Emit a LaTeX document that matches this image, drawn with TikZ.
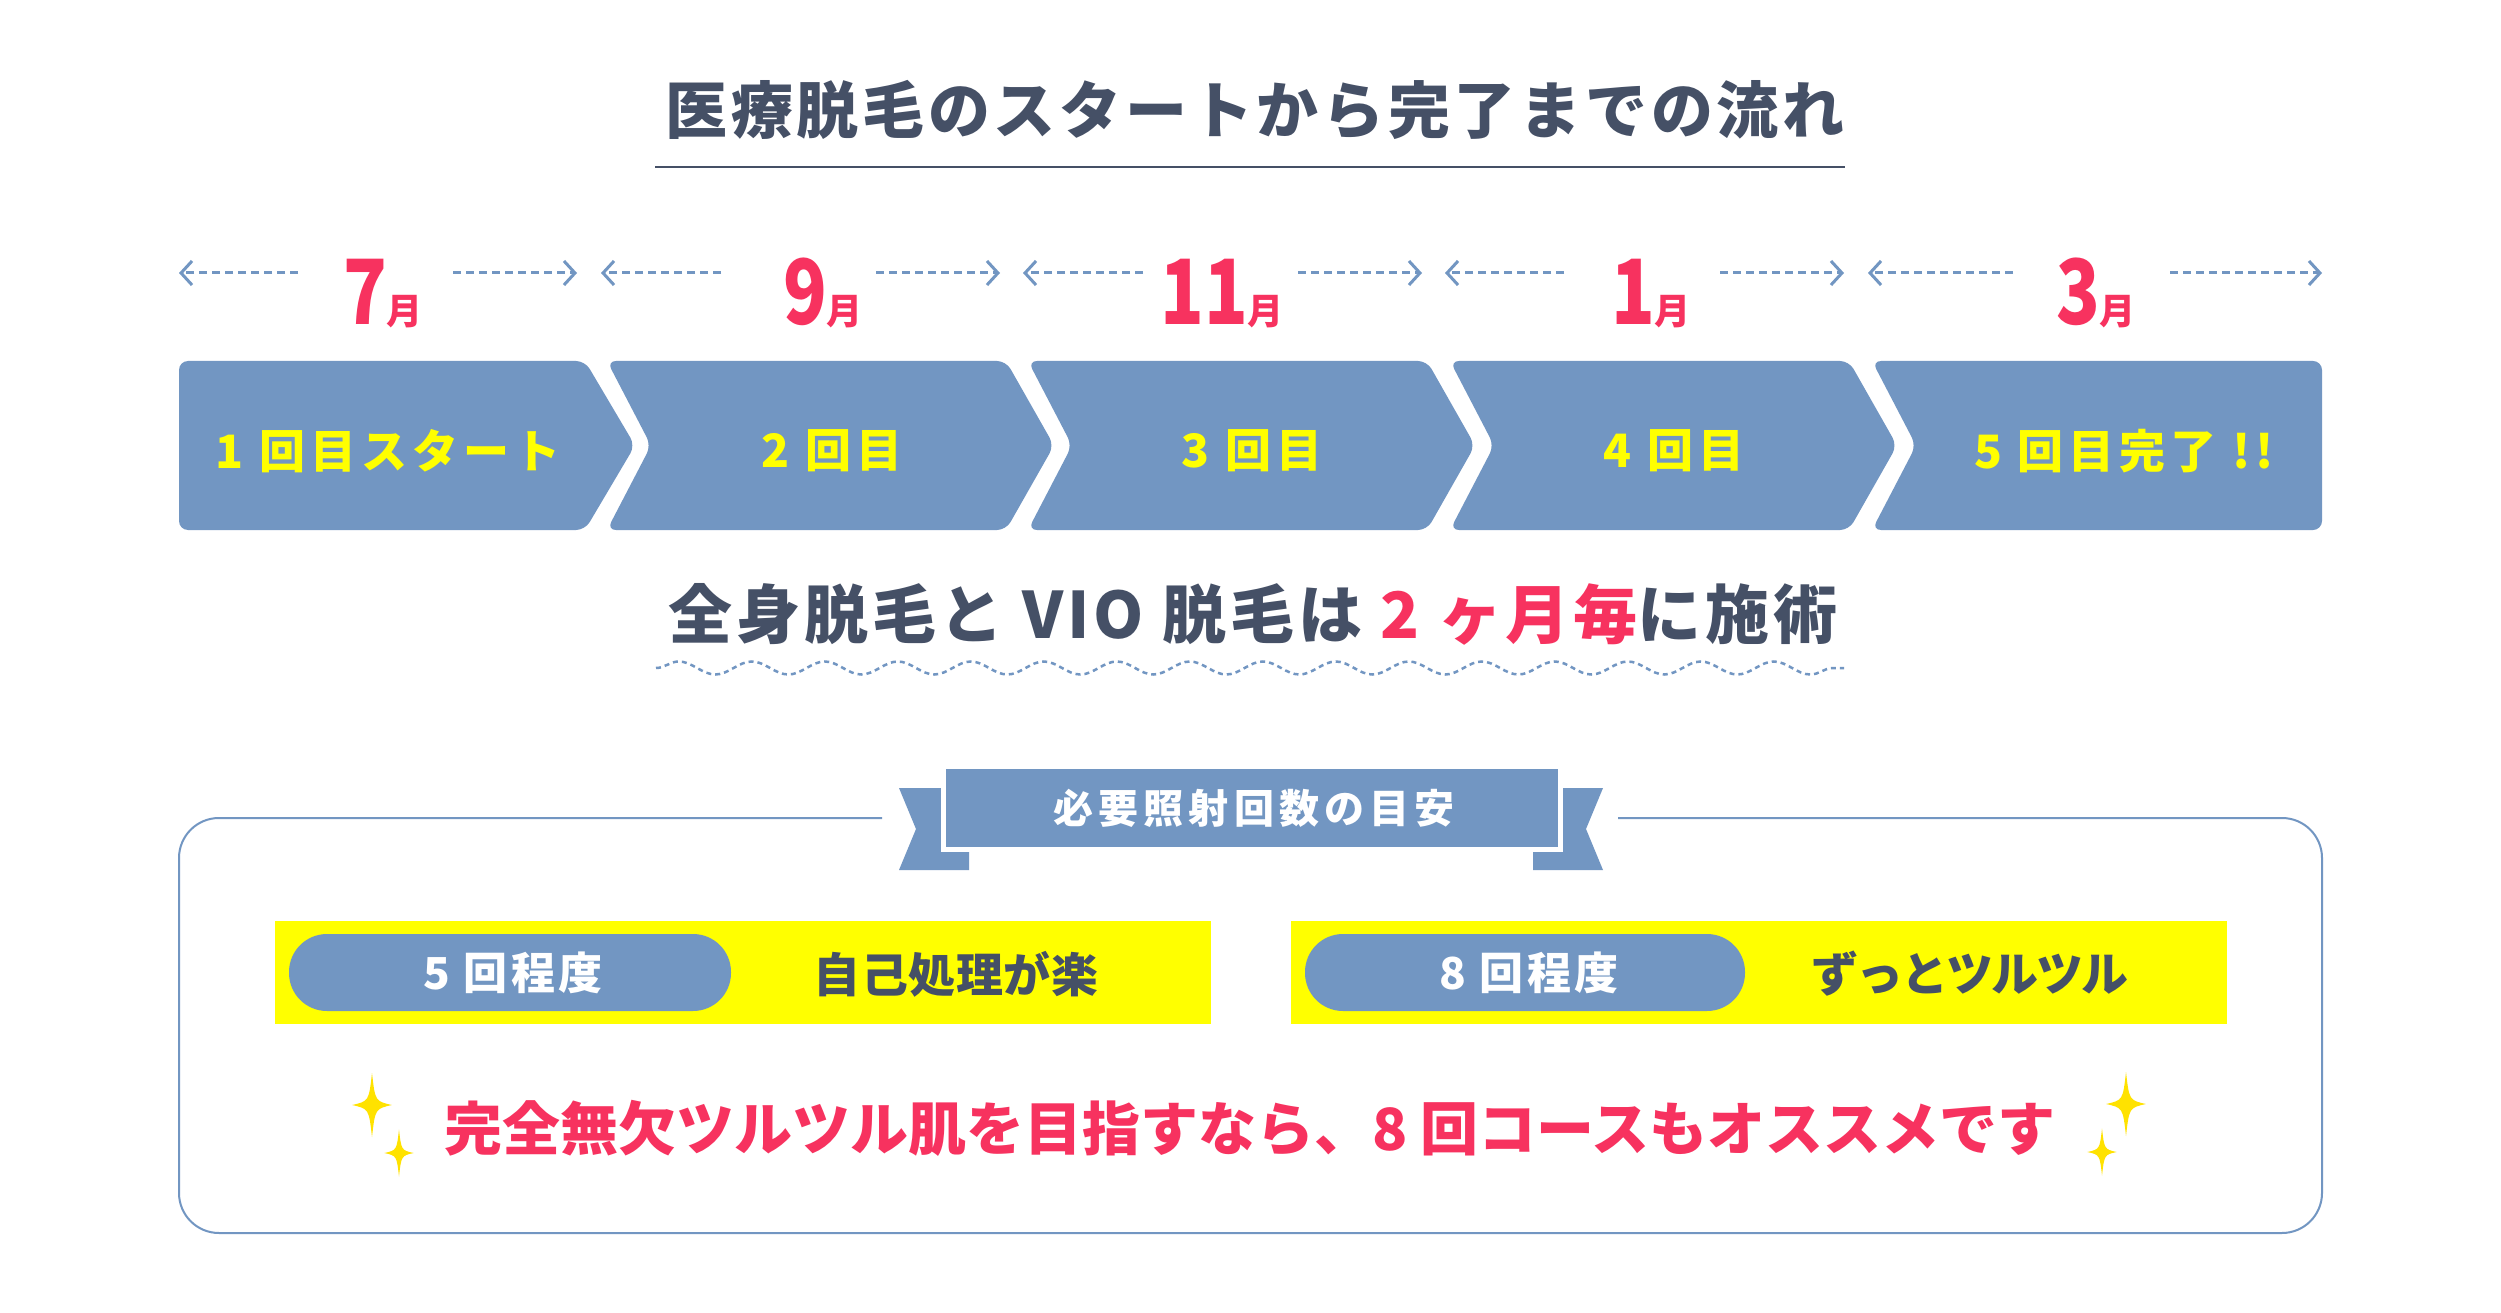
\documentclass[tikz,border=0pt]{standalone}
\usepackage{fontspec}
\newfontfamily\jp{Noto Sans CJK JP}
\usetikzlibrary{decorations.pathmorphing,arrows.meta}
\definecolor{ink}{RGB}{69,80,102}
\definecolor{bl}{RGB}{114,150,194}
\definecolor{rd}{RGB}{247,50,95}
\definecolor{yl}{RGB}{255,255,0}
\definecolor{spk}{RGB}{255,226,0}
\newcommand\monthlbl[1]{{\fontsize{90}{90}\selectfont\scalebox{0.8}[1]{#1}}{\fontsize{36}{36}\selectfont 月}}
\tikzset{
  darr/.style={bl, line width=3pt, dash pattern=on 8pt off 5pt, -{Straight Barb[length=11pt, width=24pt, line width=3pt]}},
  chev/.style={fill=bl, rounded corners=9pt},
  chevtext/.style={yl, inner sep=0, font={\jp\bfseries\fontsize{46}{50}\selectfont\addfontfeature{LetterSpace=11}}},
  mlabel/.style={rd, inner sep=0, font=\jp\bfseries},
  pilltext/.style={white, inner sep=0, font={\jp\bfseries\fontsize{44}{50}\selectfont\addfontfeature{LetterSpace=8}}},
  bartext/.style={ink, inner sep=0, font={\jp\bfseries\fontsize{47}{52}\selectfont\addfontfeature{LetterSpace=1}}},
  sparkle/.pic={\fill[spk] (0,-1) .. controls (0.1,-0.12) .. (0.62,0) .. controls (0.1,0.12) .. (0,1) .. controls (-0.1,0.12) .. (-0.62,0) .. controls (-0.1,-0.12) .. (0,-1) -- cycle;}
}
\begin{document}
\begin{tikzpicture}[x=1pt,y=-1pt]
\fill[white] (0,0) rectangle (2501,1313);
\useasboundingbox (0,0) rectangle (2501,1313);

% title
\node[ink, inner sep=0, font={\jp\bfseries\fontsize{62}{70}\selectfont\addfontfeature{LetterSpace=6}}] (title) at (1255,110) {医療脱毛のスタートから完了までの流れ};
\coordinate (ul1) at (655,167);
\coordinate (ul2) at (1845,167);
\draw[ink, line width=2.5pt] (ul1) -- (ul2);

% dashed arrows
\foreach \i/\a/\b/\c/\d in {1/179/298/453/577, 2/601/721/876/1000, 3/1023/1143/1298/1422, 4/1445/1564/1720/1844, 5/1868/2013/2170/2322}{
  \coordinate (la\i) at (\a,273);
  \coordinate (lb\i) at (\b,273);
  \coordinate (rb\i) at (\c,273);
  \coordinate (ra\i) at (\d,273);
  \draw[darr] (lb\i) -- (la\i);
  \draw[darr] (rb\i) -- (ra\i);
}

% month labels
\node[mlabel, anchor=base] (m1) at (383,325) {\monthlbl{7}};
\node[mlabel, anchor=base] (m2) at (823,325) {\monthlbl{9}};
\node[mlabel, anchor=base] (m3) at (1222,325) {\monthlbl{11}};
\node[mlabel, anchor=base] (m4) at (1651,325) {\monthlbl{1}};
\node[mlabel, anchor=base] (m5) at (2096,325) {\monthlbl{3}};

% chevrons
\path[chev] (179,361) -- (585,361) -- (635,445.5) -- (585,530) -- (179,530) -- cycle;
\foreach \L in {607,1028,1450}{
  \path[chev] (\L,361) -- ({\L+399},361) -- ({\L+447},445.5) -- ({\L+399},530) -- (\L,530) -- ({\L+44},445.5) -- cycle;
}
\path[chev] (1872,361) -- (2322,361) -- (2322,530) -- (1872,530) -- (1916,445.5) -- cycle;

\node[chevtext] (c1) at (388,451) {1 回目スタート};
\node[chevtext] (c2) at (832,451) {2 回目};
\node[chevtext] (c3) at (1252,451) {3 回目};
\node[chevtext] (c4) at (1674,451) {4 回目};
\node[chevtext] (c5) at (2124,451) {5 回目完了 !!};

% subtitle
\node[ink, inner sep=0, font={\jp\bfseries\fontsize{64}{70}\selectfont\addfontfeature{LetterSpace=6}}] (sub) at (1253,614) {全身脱毛と VIO 脱毛は \textcolor{rd}{2 ヶ月毎}に施術};
\coordinate (w1) at (656,668);
\coordinate (w2) at (1844,668);
\draw[bl, line width=2.5pt, dash pattern=on 5pt off 4pt, decorate, decoration={snake, segment length=73pt, amplitude=6.5pt}] (w1) -- (w2);

% box
\coordinate (bx1) at (882,818);
\coordinate (bx2) at (1618,818);
\draw[bl, line width=2pt, rounded corners=40pt] (bx1) -- (179,818) -- (179,1233) -- (2322,1233) -- (2322,818) -- (bx2);

% banner
\fill[bl] (899,788) -- (969,788) -- (969,870) -- (899,870) -- (916,829) -- cycle;
\fill[bl] (1603,788) -- (1533,788) -- (1533,870) -- (1603,870) -- (1586,829) -- cycle;
\draw[white, line width=5pt, fill=bl] (943,766) rectangle (1560,849);
\node[white, inner sep=0, font={\jp\bfseries\fontsize{40}{46}\selectfont\addfontfeature{LetterSpace=13}}] (ban) at (1254,808) {必要照射回数の目安};

% yellow bars and pills
\fill[yl] (275,921) rectangle (1211,1024);
\fill[yl] (1291,921) rectangle (2227,1024);
\fill[bl, rounded corners=38pt] (289,934) rectangle (731,1011);
\fill[bl, rounded corners=38pt] (1305,934) rectangle (1745,1011);
\node[pilltext] (p1) at (513,973) {5 回程度};
\node[pilltext] (p2) at (1529,973) {8 回程度};
\node[bartext] (t1) at (956,974) {自己処理が楽};
\node[bartext, font={\jp\bfseries\fontsize{47}{52}\selectfont\addfontfeature{LetterSpace=-4}}] (t2) at (1970,974) {ずっとツルツル};

% bottom message
\node[rd, inner sep=0, font={\jp\bfseries\fontsize{58}{64}\selectfont}] (msg) at (1250,1128) {完全無欠ツルツル肌を目指すなら、8 回コースもオススメです};
\pic[scale=32] at (372,1105) {sparkle};
\pic[scale=23.5] at (399,1153) {sparkle};
\pic[scale=32] at (2126,1104) {sparkle};
\pic[scale=23.5] at (2102,1152) {sparkle};
\end{tikzpicture}
\end{document}
